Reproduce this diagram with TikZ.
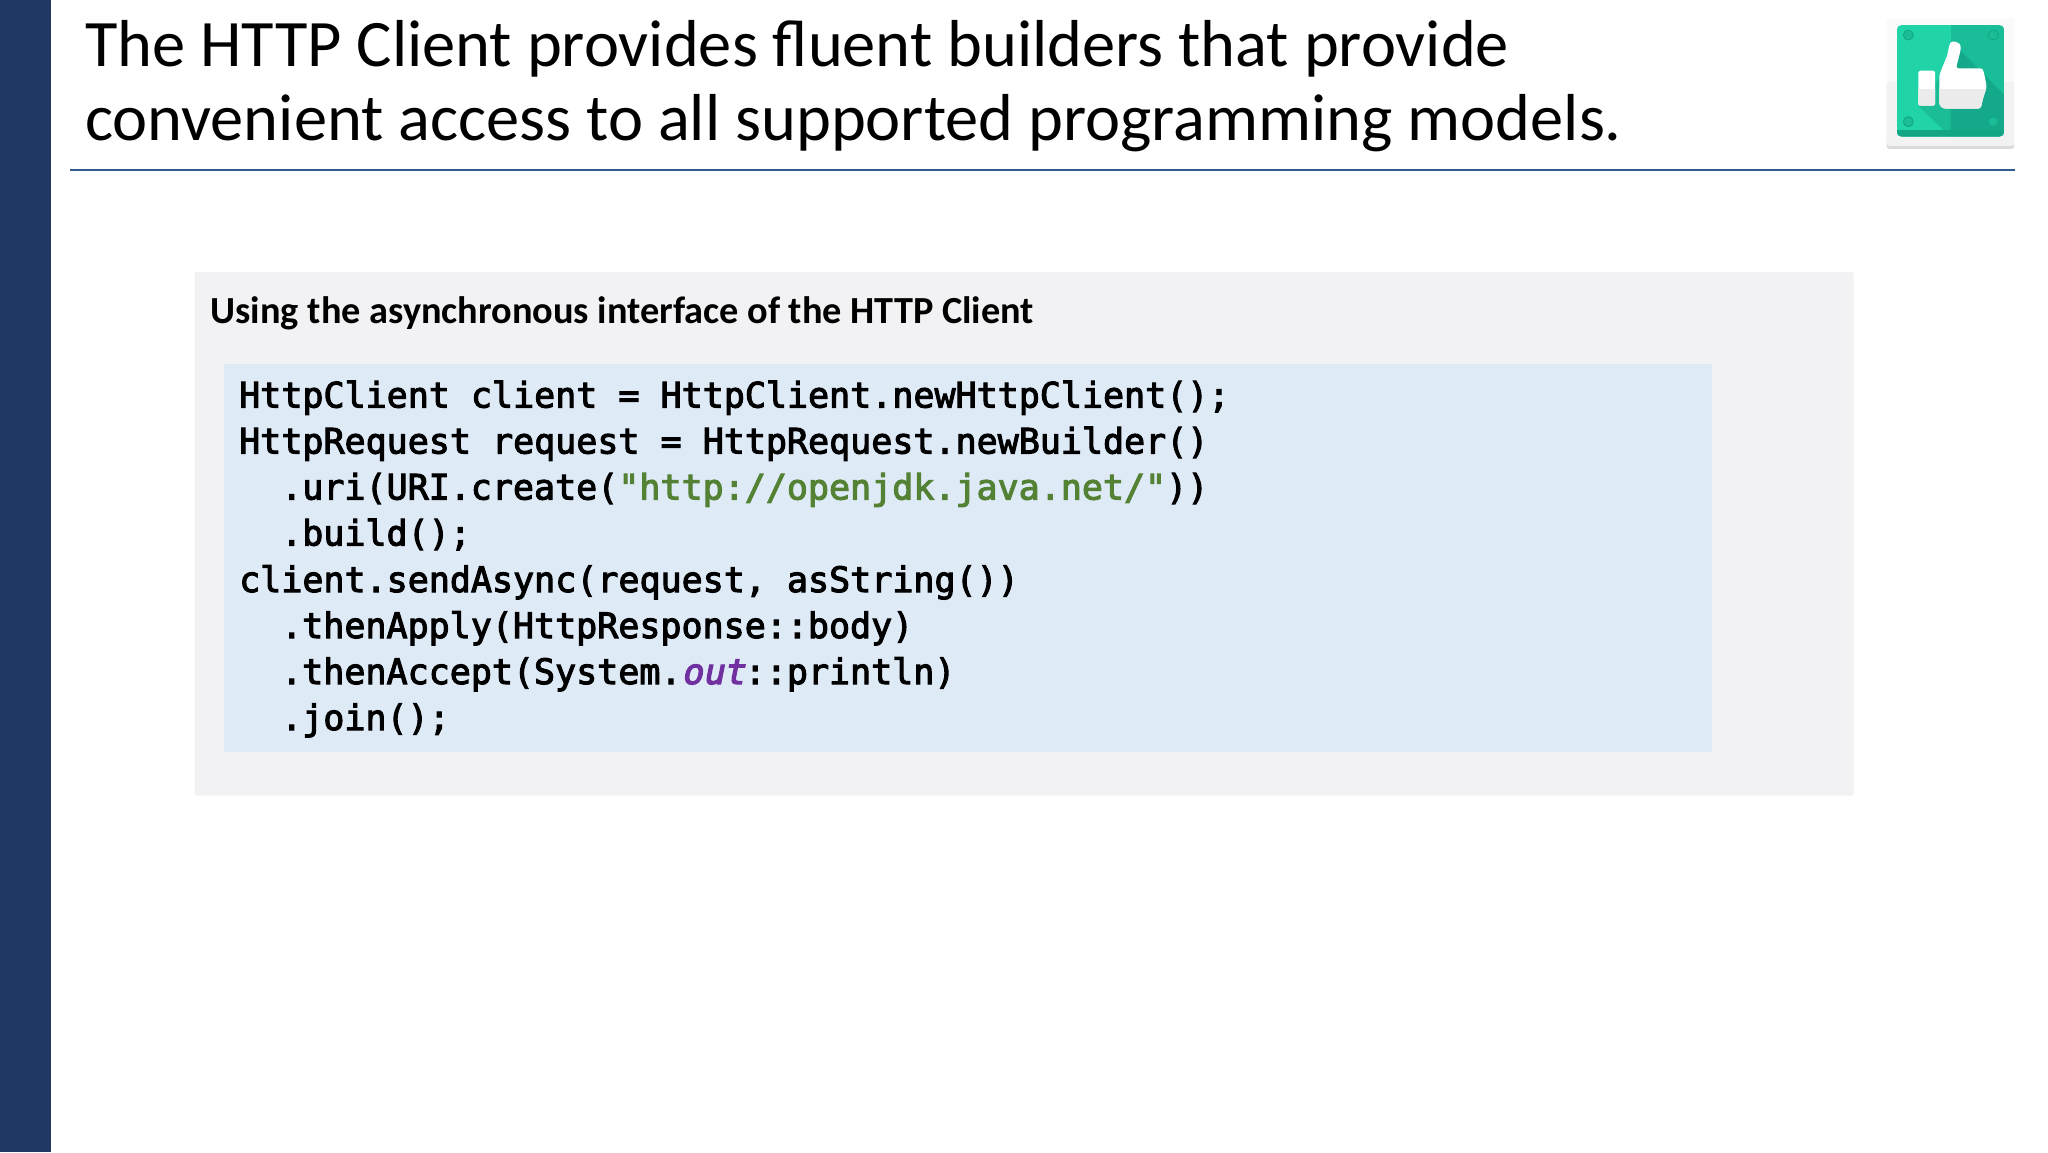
\documentclass[tikz,border=0pt]{standalone}
\usepackage{fontspec}
\setmainfont{Carlito}
\newfontfamily\codefont[FakeBold=3]{DejaVu Sans Mono}
\newfontfamily\codeobl[FakeBold=3.5,FakeSlant=0.2]{DejaVu Sans Mono}
\definecolor{sidebar}{HTML}{1F3864}
\definecolor{rulecol}{HTML}{2F5B8F}
\definecolor{panel}{HTML}{F2F2F4}
\definecolor{codebg}{HTML}{DFEAF7}
\definecolor{strcol}{HTML}{548235}
\definecolor{fieldcol}{HTML}{7030A0}
\definecolor{gA}{HTML}{20D4A8}
\definecolor{gB}{HTML}{19BE98}
\definecolor{gC}{HTML}{1BBD97}
\definecolor{gD}{HTML}{14A98A}
\definecolor{gE}{HTML}{12A583}
\newcommand{\thumbpaths}[1]{%
  \fill[#1,rounded corners=2.5pt] (238,225) -- (262,165) -- (268,135)
    .. controls (274,122) and (302,122) .. (302,150)
    -- (288,205) -- (368,205) -- (375,232) -- (380,262) -- (370,292) -- (362,326) -- (250,326)
    -- (238,316) -- cycle;
  \fill[#1,rounded corners=1.5pt] (175,212) rectangle (225,317);
}
\tikzset{
  titletext/.style={anchor=base west,inner sep=0pt,font=\fontsize{66.4pt}{76pt}\selectfont,text=black},
  headtext/.style={anchor=base west,inner sep=0pt,font=\bfseries\fontsize{38.3pt}{46pt}\selectfont,text=black},
  codeline/.style={anchor=base west,inner sep=0pt,font=\codefont\fontsize{35pt}{40pt}\selectfont,text=black},
}
\begin{document}
\begin{tikzpicture}[x=1pt,y=-1pt]
\useasboundingbox (0,0) rectangle (2048,1152);
\fill[white] (0,0) rectangle (2048,1152);
\fill[sidebar] (0,0) rectangle (50.5,1152);
\node[titletext] (t1) at (85,66.5) {The HTTP Client provides fluent builders that provide};
\node[titletext] (t2) at (85,140.5) {convenient access to all supported programming models.};
\draw[rulecol,line width=2pt] (70,169.5) -- (2014.5,169.5);
% icon
\begin{scope}[shift={(1860,0)},x=0.3333pt,y=-0.3333pt]
  \fill[white!98!black,rounded corners=3pt] (80,55) rectangle (463,447);
  \fill[black!14,rounded corners=3pt] (80,420) rectangle (463,447);
  \fill[black!5,rounded corners=3pt] (80,245) rectangle (463,438);
  \begin{scope}
    \clip[rounded corners=5pt] (110,75) rectangle (433,410);
    \fill[gA] (110,75) rectangle (272,410);
    \fill[gB] (272,75) rectangle (433,410);
    \fill[gC] (175,317) -- (300,150) -- (433,285) -- (433,390) -- (250,390) -- cycle;
    \begin{scope}
      \clip (272,75) rectangle (433,410);
      \fill[gD] (175,317) -- (300,150) -- (433,285) -- (433,390) -- (250,390) -- cycle;
    \end{scope}
    \fill[gE] (110,390) rectangle (433,410);
  \end{scope}
  \foreach \cx/\cy in {145/105,400/105,145/365,400/365}{
    \fill[gC,draw=gE,line width=0.8pt] (\cx,\cy) circle (15);
  }
  \thumbpaths{white}
  \begin{scope}
    \clip (160,268) rectangle (400,340);
    \thumbpaths{black!8}
  \end{scope}
\end{scope}
% panel
\fill[panel,rounded corners=2pt] (194.5,272) rectangle (1853.5,795.5);
\node[headtext] (h) at (210.5,323.5) {Using the asynchronous interface of the HTTP Client};
\fill[codebg] (223.5,364) rectangle (1711.5,752);
\node[codeline] (c1) at (239,407.5) {HttpClient client = HttpClient.newHttpClient();};
\node[codeline] (c2) at (239,453.5) {HttpRequest request = HttpRequest.newBuilder()};
\node[codeline] (c3) at (281,499.5) {.uri(URI.create(\textcolor{strcol}{"http://openjdk.java.net/"}))};
\node[codeline] (c4) at (281,545.5) {.build();};
\node[codeline] (c5) at (239,592) {client.sendAsync(request, asString())};
\node[codeline] (c6) at (281,638) {.thenApply(HttpResponse::body)};
\node[codeline] (c7) at (281,684) {.thenAccept(System.{\codeobl\color{fieldcol}out}::println)};
\node[codeline] (c8) at (281,730) {.join();};
\end{tikzpicture}
\end{document}
